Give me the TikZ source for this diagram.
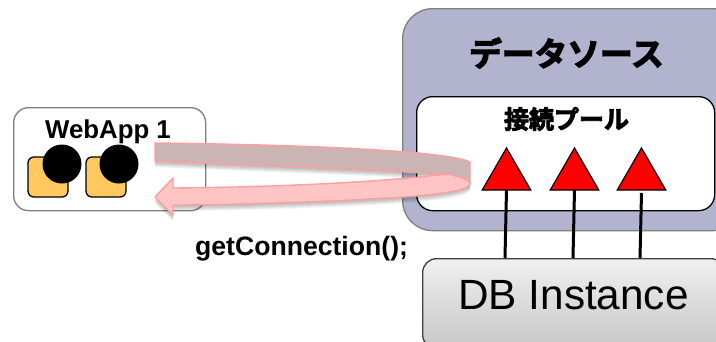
\documentclass[tikz,border=0pt]{standalone}
\usepackage{fontspec}
\setmainfont{Liberation Sans}
\newfontfamily\cjk[FakeBold=3.5]{Noto Sans CJK JP Bold}
\usetikzlibrary{shapes.geometric}
\definecolor{dsfill}{HTML}{B2B4CF}
\definecolor{edgegray}{HTML}{7F7F7F}
\definecolor{appsq}{HTML}{FFC95F}
\definecolor{arrowback}{HTML}{CBB4B4}
\definecolor{arrowfront}{HTML}{FFC4C4}
\definecolor{arrowedge}{HTML}{FF9E9E}
\tikzset{
  panel/.style={draw=edgegray,line width=1.3pt,rounded corners=#1},
  square/.style={draw=black,line width=1.3pt,fill=appsq,rounded corners=6pt,minimum size=40pt,inner sep=0pt},
  conn/.style={circle,fill=black,minimum size=39pt,inner sep=0pt},
  tri/.style={regular polygon,regular polygon sides=3,draw=black,line width=1.2pt,fill=red,minimum size=56pt,inner sep=0pt},
  link/.style={draw=black,line width=3pt},
  ribbon/.style={draw=arrowedge,line width=1.4pt,line join=round},
  shade/.style={fill=black,opacity=.05,draw=none}
}
\newcommand{\backpath}{(155,143) .. controls (330,145) and (450,152) .. (470,162) -- (470,184) .. controls (462,178) and (455,177) .. (446,175) .. controls (400,170) and (280,167) .. (155,161) -- cycle}
\newcommand{\frontpath}{(155,197) -- (173,178) -- (173,188) .. controls (300,187) and (400,180) .. (446,174) .. controls (460,176) and (470,180) .. (470,184) .. controls (468,194) and (400,198) .. (330,201) .. controls (280,203) and (220,205) .. (173,205) -- (173,215) -- cycle}
\begin{document}
\begin{tikzpicture}[x=1pt,y=-1pt]
\useasboundingbox (0,0) rectangle (716,341);
\clip (0,0) rectangle (716,341);
\fill[white] (0,0) rectangle (716,341);
% data source
\node[panel=30pt,fill=dsfill,minimum width=340pt,minimum height=222pt,inner sep=0pt,anchor=north west] (ds) at (402,8) {};
\node[font=\cjk\fontsize{32.7}{33}\selectfont,inner sep=0pt] (dstitle) at (566.5,53) {データソース};
\node[draw=black,line width=1.3pt,fill=white,rounded corners=16pt,minimum width=298pt,minimum height=114pt,inner sep=0pt,anchor=north west] (pool) at (416,96) {};
\node[font=\cjk\fontsize{25}{25}\selectfont,inner sep=0pt] (pooltitle) at (566.5,119) {接続プール};
% DB
\node[draw=black!75,line width=1.3pt,rounded corners=14pt,top color=white!94!black,bottom color=black!22,minimum width=302pt,minimum height=90pt,inner sep=0pt,anchor=north west] (db) at (422,258) {};
\node[font=\fontsize{42.3}{42}\selectfont,inner sep=0pt] (dbtext) at (573.5,295) {DB Instance};
% triangles
\node[tri] (t1) at (506.5,176) {};
\node[tri] (t2) at (574.5,176) {};
\node[tri] (t3) at (641.5,176) {};
\coordinate (d1) at (505,258);
\coordinate (d2) at (573,258);
\coordinate (d3) at (640,258);
\coordinate (b1) at (506.5,190);
\coordinate (b2) at (574.5,190);
\coordinate (b3) at (641.5,193);
\draw[link] (b1) -- (d1);
\draw[link] (b2) -- (d2);
\draw[link] (b3) -- (d3);
% web app
\node[panel=15pt,fill=white,minimum width=192pt,minimum height=103pt,inner sep=0pt,anchor=north west] (app) at (13,107) {};
\node[font=\bfseries\fontsize{25.8}{26}\selectfont,inner sep=0pt] (apptext) at (108,132) {WebApp 1};
\node[square] (s1) at (48,177) {};
\node[square] (s2) at (106,177) {};
\node[conn] (c1) at (62,164) {};
\node[conn] (c2) at (119,164) {};
% arrow shadow
\foreach \d in {2,3,4,5,6}{
  \fill[shade,yshift=-\d pt] \backpath;
  \fill[shade,yshift=-\d pt] \frontpath;
}
\filldraw[ribbon,fill=arrowback] \backpath;
\filldraw[ribbon,fill=arrowfront] \frontpath;
\node[font=\bfseries\fontsize{26.6}{27}\selectfont,inner sep=0pt,anchor=base west] (call) at (195,255.5) {getConnection();};
\end{tikzpicture}
\end{document}
